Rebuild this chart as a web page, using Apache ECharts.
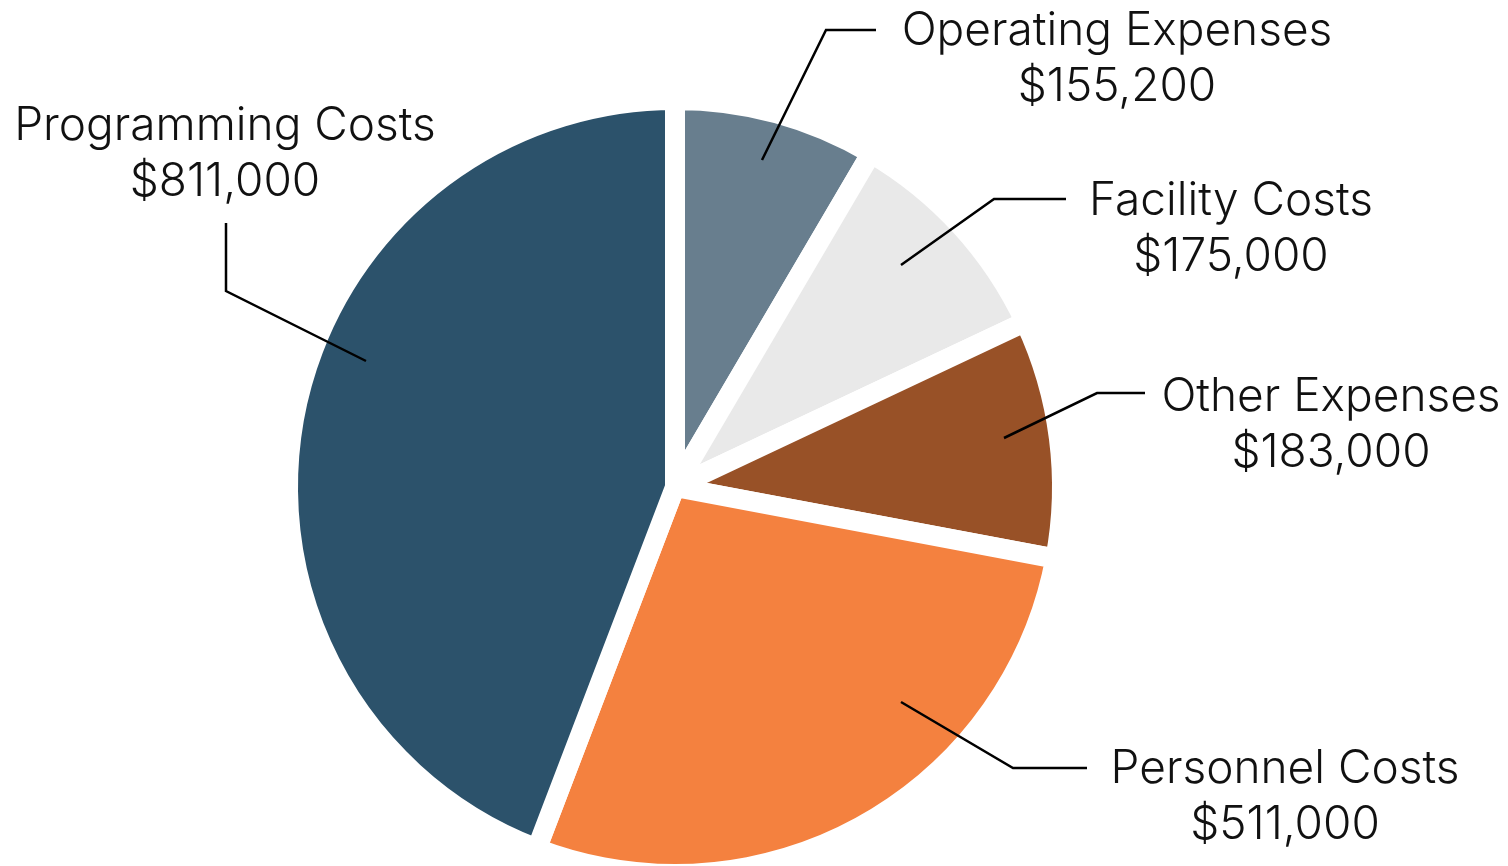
<!DOCTYPE html>
<html>
<head>
<meta charset="utf-8">
<title>Budget</title>
<script src="https://cdn.jsdelivr.net/npm/echarts@6/dist/echarts.min.js"></script>
<style>
    html, body {
        margin: 0;
        padding: 0;
        background: #fff;
    }
    .chart {
        display: block;
        width: 1508px;
        height: 866px;
    }
</style>
</head>
<body>
<section id="chart_main" class="chart"></section>
<script>
// 类别（顺时针，从12点方向开始）
const categories = ["Operating Expenses", "Facility Costs", "Other Expenses", "Personnel Costs", "Programming Costs"];
// 金额
const amounts = [155200, 175000, 183000, 511000, 811000];
// 调色盘
const colorArr = ["#687e8e", "#e9e9e9", "#985127", "#f4813f", "#2c526b"];

// 标签位置：文字中心点 + 引导线三个点（只是排版，不是数据）
const labelSpots = [
    { x: 1117, y: 59, line: [[762, 160], [826, 30], [876, 30]] },
    { x: 1231, y: 229, line: [[901, 265], [994, 199], [1066, 199]] },
    { x: 1331, y: 425, line: [[1004, 438], [1097, 393], [1145, 393]] },
    { x: 1285, y: 797, line: [[901, 702], [1013, 768], [1087, 768]] },
    { x: 225, y: 154, line: [[366, 361], [226, 291], [226, 223]] },
];

const pieData = categories.map((name, i) => ({ name: name, value: amounts[i] }));

let chart_obj = echarts.init(document.getElementById("chart_main"));

// 两个series共用的配置
const default_series_pie = {
    type: "pie",
    // 圆心和半径（白色描边会吃掉10px）
    center: [675, 487],
    radius: 387,
    startAngle: 90,
    clockwise: true,
    avoidLabelOverlap: false,
    silent: true,
    emphasis: { disabled: true },
    data: pieData,
};

let option = {
    animation: false,
    color: colorArr,
    series: [
        // 扇区本身
        Object.assign({}, default_series_pie, {
            z: 2,
            itemStyle: {
                borderColor: "#fff",
                borderWidth: 20,
            },
            label: { show: false },
            labelLine: { show: false },
        }),
        // 透明的一层，只负责标签和引导线，这样线能压在扇区上面
        Object.assign({}, default_series_pie, {
            z: 3,
            itemStyle: {
                color: "rgba(0,0,0,0)",
            },
            label: {
                show: true,
                position: "outside",
                width: 470,
                overflow: "none",
                color: "#111",
                fontFamily: "Inter",
                fontWeight: 300,
                fontSize: 46,
                lineHeight: 56,
                formatter: params => params.name + "\n$" + params.value.toLocaleString("en-US"),
            },
            labelLine: {
                show: true,
                length: 20,
                length2: 20,
                lineStyle: {
                    color: "#000",
                    width: 2.5,
                },
            },
            // 手动摆放标签和引导线
            labelLayout: params => {
                const spot = labelSpots[params.dataIndex];
                return {
                    x: spot.x,
                    y: spot.y,
                    align: "center",
                    verticalAlign: "middle",
                    labelLinePoints: spot.line,
                };
            },
        }),
    ]
};

chart_obj.setOption(option);
</script>
</body>
</html>
